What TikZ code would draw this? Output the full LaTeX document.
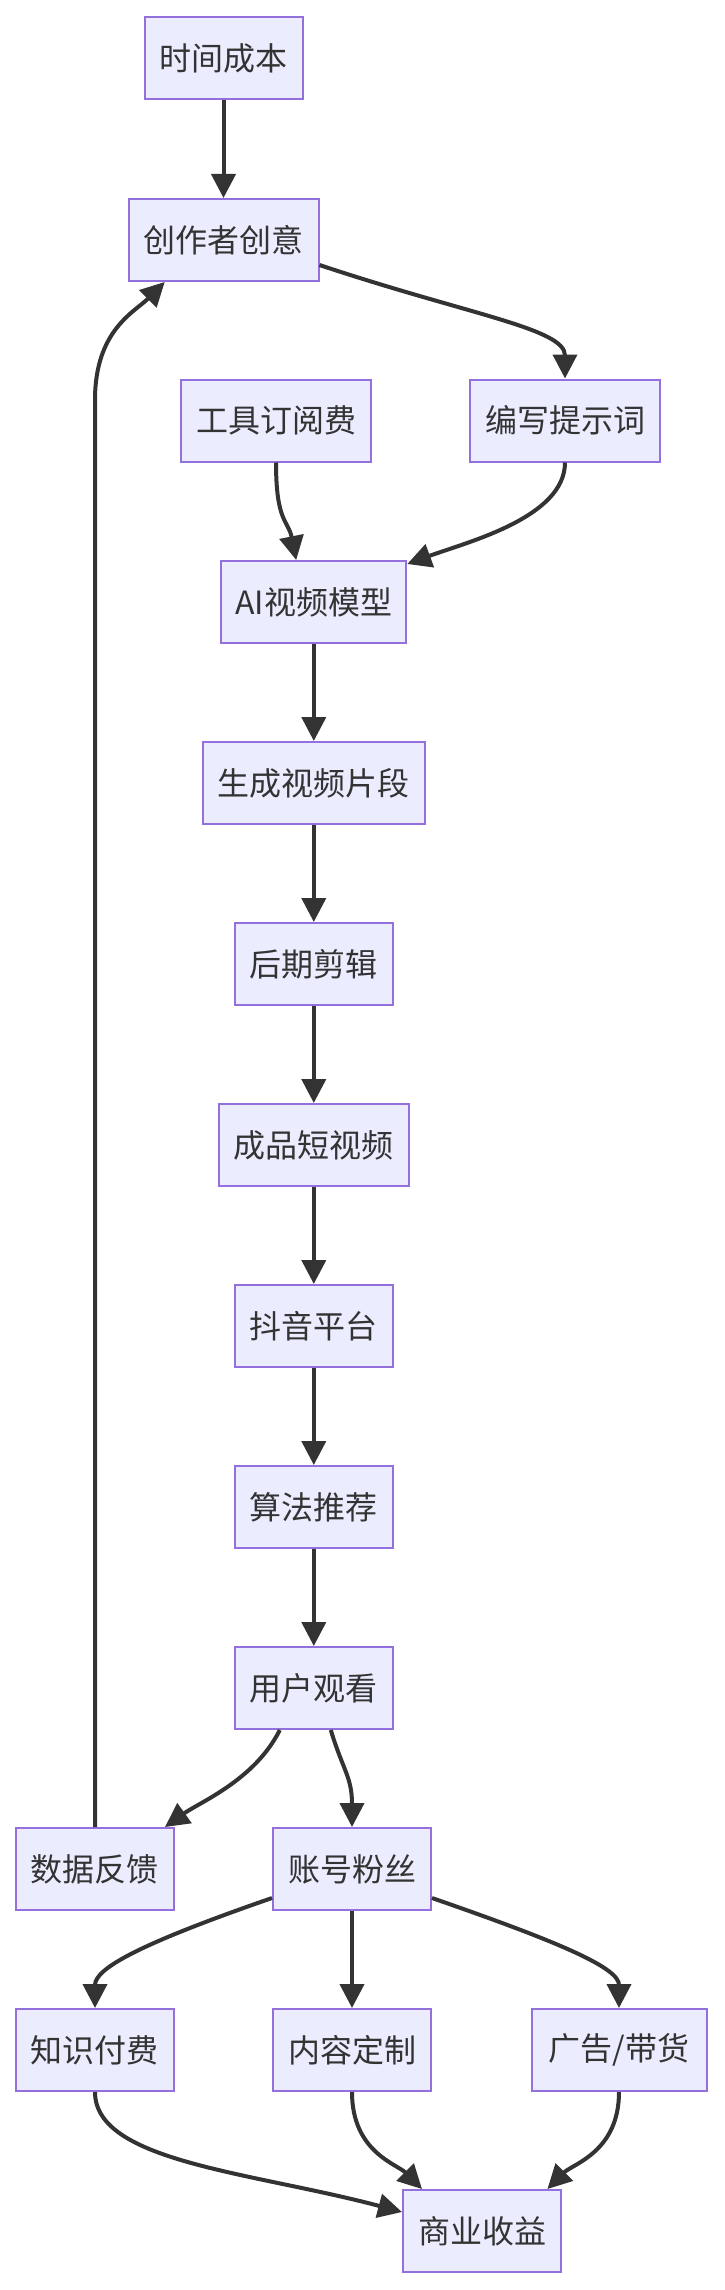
\documentclass[tikz,border=0pt]{standalone}
\usepackage{fontspec}
\setmainfont{Noto Sans CJK SC}
\usetikzlibrary{arrows.meta}
\definecolor{nodefill}{HTML}{ECECFF}
\definecolor{nodeborder}{HTML}{9370DB}
\definecolor{edgecol}{HTML}{333333}
\begin{document}
\begin{tikzpicture}[x=0.5pt,y=-0.5pt,
  box/.style={draw=nodeborder, fill=nodefill, line width=1pt, minimum height=41pt,
    minimum width=79pt, inner sep=0pt, text=edgecol,
    font=\fontsize{16pt}{19pt}\selectfont},
  flow/.style={draw=edgecol, line width=2pt, -{Triangle[length=12pt,width=12pt]}}]
\useasboundingbox (0,0) rectangle (724,2290);
% nodes
\node[box] (A) at (223.5,58.4) {时间成本};
\node[box, minimum width=95pt] (B) at (223.5,240) {创作者创意};
\node[box, minimum width=95pt] (C) at (276,420.5) {工具订阅费};
\node[box, minimum width=95pt] (D) at (565,420.5) {编写提示词};
\node[box, minimum width=92.5pt] (E) at (313.8,602) {AI视频模型};
\node[box, minimum width=111pt] (F) at (313.8,783) {生成视频片段};
\node[box] (G) at (313.8,964) {后期剪辑};
\node[box, minimum width=95pt] (H) at (313.8,1145) {成品短视频};
\node[box] (I) at (313.8,1326) {抖音平台};
\node[box] (J) at (313.8,1507) {算法推荐};
\node[box] (K) at (313.8,1688) {用户观看};
\node[box] (L) at (95,1869) {数据反馈};
\node[box] (M) at (352,1869) {账号粉丝};
\node[box] (N) at (95,2050) {知识付费};
\node[box] (O) at (352,2050) {内容定制};
\node[box, minimum width=87.5pt] (P) at (619,2050) {广告/带货};
\node[box] (Q) at (482,2231) {商业收益};
\coordinate (lb) at (95,400);
% edges
\draw[flow] (A.south) -- (B.north);
\draw[flow] ([yshift=-12.5pt]B.east) .. controls +(150,50) and +(0,-50) .. (D.north);
\draw[flow] (L.north) -- (lb) .. controls +(0,-70) and +(-30,30) .. ([xshift=-29.4pt]B.south);
\draw[flow] (C.south) .. controls +(0,60) and +(-8,-40) .. ([xshift=-8.8pt]E.north);
\draw[flow] (D.south) .. controls +(0,55) and +(60,-22) .. ([yshift=-2pt]E.north east);
\draw[flow] (E.south) -- (F.north);
\draw[flow] (F.south) -- (G.north);
\draw[flow] (G.south) -- (H.north);
\draw[flow] (H.south) -- (I.north);
\draw[flow] (I.south) -- (J.north);
\draw[flow] (J.south) -- (K.north);
\draw[flow] ([xshift=-17pt]K.south) .. controls +(-25,50) and +(35,-25) .. ([xshift=-5pt]L.north east);
\draw[flow] ([xshift=8.5pt]K.south) .. controls +(12,40) and +(0,-50) .. (M.north);
\draw[flow] ([yshift=-14.5pt]M.west) .. controls +(-130,45) and +(0,-40) .. (N.north);
\draw[flow] (M.south) -- (O.north);
\draw[flow] ([yshift=-14.5pt]M.east) .. controls +(130,45) and +(0,-40) .. (P.north);
\draw[flow] (N.south) .. controls +(0,70) and +(-150,-40) .. ([yshift=9.5pt]Q.west);
\draw[flow] (O.south) .. controls +(0,60) and +(-25,-25) .. ([xshift=-30pt]Q.north);
\draw[flow] (P.south) .. controls +(0,60) and +(25,-25) .. ([xshift=32.7pt]Q.north);
\end{tikzpicture}
\end{document}
